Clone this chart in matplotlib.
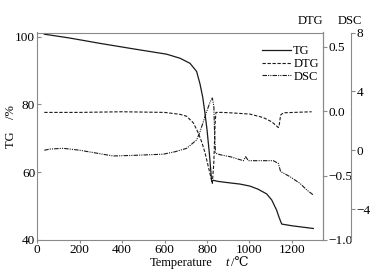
import numpy as np
import matplotlib
matplotlib.use('Agg')
import matplotlib.pyplot as plt

plt.rcParams['font.family'] = ['Liberation Serif', 'DejaVu Serif']
plt.rcParams['font.size'] = 8.5
plt.rcParams['mathtext.fontset'] = 'stix'

# TG curve (%)
t_tg = [33, 150, 295, 450, 610, 673, 720, 751, 767, 780, 790, 800, 811, 822, 830, 850,
        900, 955, 1002, 1040, 1081, 1105, 1128, 1140, 1152, 1200, 1250, 1301]
tg = [100.7, 99.6, 98.0, 96.4, 94.8, 93.6, 92.1, 89.7, 86.0, 82.0, 77.5, 72.5, 65.5, 57.2, 57.6, 57.3,
      56.9, 56.5, 55.9, 55.0, 53.6, 51.8, 48.8, 46.6, 44.7, 44.2, 43.8, 43.4]

# DTG curve
t_dtg = [33, 200, 400, 600, 672, 704, 735, 759, 775, 790, 806, 825, 832, 838, 842, 870,
         909, 1002, 1065, 1105, 1136, 1140, 1147, 1160, 1293]
dtg = [-0.01, -0.01, -0.005, -0.01, -0.025, -0.04, -0.09, -0.17, -0.24, -0.32, -0.43, -0.56, -0.40, -0.10, -0.01, -0.01,
       -0.013, -0.023, -0.05, -0.083, -0.127, -0.11, -0.03, -0.013, -0.005]

# DSC curve
t_dsc = [33, 60, 122, 200, 357, 450, 593, 650, 704, 751, 767, 798, 815, 825, 832, 836, 840, 860,
         909, 971, 982, 995, 1112, 1136, 1147, 1160, 1191, 1238, 1270, 1301]
dsc = [0.0, 0.08, 0.13, 0.0, -0.39, -0.35, -0.27, -0.1, 0.13, 0.7, 1.26, 2.62, 3.3, 3.55, 3.0, 1.0, -0.2, -0.3,
       -0.44, -0.71, -0.44, -0.71, -0.71, -0.89, -1.46, -1.55, -1.8, -2.25, -2.7, -3.04]

gray = '#8a8a8a'
lc = '#1a1a1a'

fig = plt.figure(figsize=(3.86, 2.77), dpi=100)
ax = fig.add_axes([37.3/386, 1-240/277, 286/386, 207.5/277])
ax2 = ax.twinx()
ax3 = ax.twinx()

l1, = ax.plot(t_tg, tg, color=lc, lw=0.9, ls='-')
l2, = ax2.plot(t_dtg, dtg, color=lc, lw=0.8, dashes=[3, 1.5])
l3, = ax3.plot(t_dsc, dsc, color=lc, lw=0.8, dashes=[4, 1, 1, 1, 1, 1])

ax.set_xlim(0, 1348)
ax.set_ylim(40, 101.2)
ax.set_xticks([0, 200, 400, 600, 800, 1000, 1200])
ax.set_yticks([40, 60, 80, 100])
ax.tick_params(axis='y', direction='in', length=3, color=gray, pad=1.5, labelsize=9.5)
ax.tick_params(axis='x', direction='out', length=2.5, color=gray, pad=0.5, labelsize=9.5)

ax2.set_ylim(-1.0, 0.61)
ax2.set_yticks([-1.0, -0.5, 0.0, 0.5])
ax2.set_yticklabels(['\u22121.0', '\u22120.5', '0.0', '0.5'])
ax2.tick_params(axis='y', direction='out', length=3, color=gray, pad=1, labelsize=9.5)

ax3.set_ylim(-6.1, 8.0)
ax3.set_yticks([-4, 0, 4, 8])
ax3.set_yticklabels(['\u22124', '0', '4', '8'])
ax3.spines['right'].set_position(('axes', (351-37.3)/286))
ax3.tick_params(axis='y', direction='out', length=3, color=gray, pad=1, labelsize=9.5)

for a in [ax, ax2, ax3]:
    for s in a.spines.values():
        s.set_color(gray)
        s.set_linewidth(0.8)
for s in ['top', 'left', 'bottom']:
    ax3.spines[s].set_visible(False)
    ax2.spines[s].set_visible(False)

ax.legend([l1, l2, l3], ['TG', 'DTG', 'DSC'], loc='upper left',
          bbox_to_anchor=((262-37.3)/286, (240-45.5)/207.5), frameon=False, fontsize=9,
          borderpad=0, borderaxespad=0, handlelength=2.3, handletextpad=0.2, labelspacing=0.05)

fig.text(310/386, 1-20.7/277, 'DTG', ha='center', va='center', fontsize=9)
fig.text(350/386, 1-20.7/277, 'DSC', ha='center', va='center', fontsize=9)
fig.text(11/386, 1-127/277, 'TG    /%', rotation=90, ha='center', va='center', fontsize=9)
fig.text(181/386, 1-263/277, 'Temperature', ha='center', va='center', fontsize=9)
fig.text(227/386, 1-263/277, 't', style='italic', ha='center', va='center', fontsize=9)
fig.text(240/386, 1-263/277, '/\u2103', ha='center', va='center', fontsize=9)

plt.savefig('out.png', dpi=100)
